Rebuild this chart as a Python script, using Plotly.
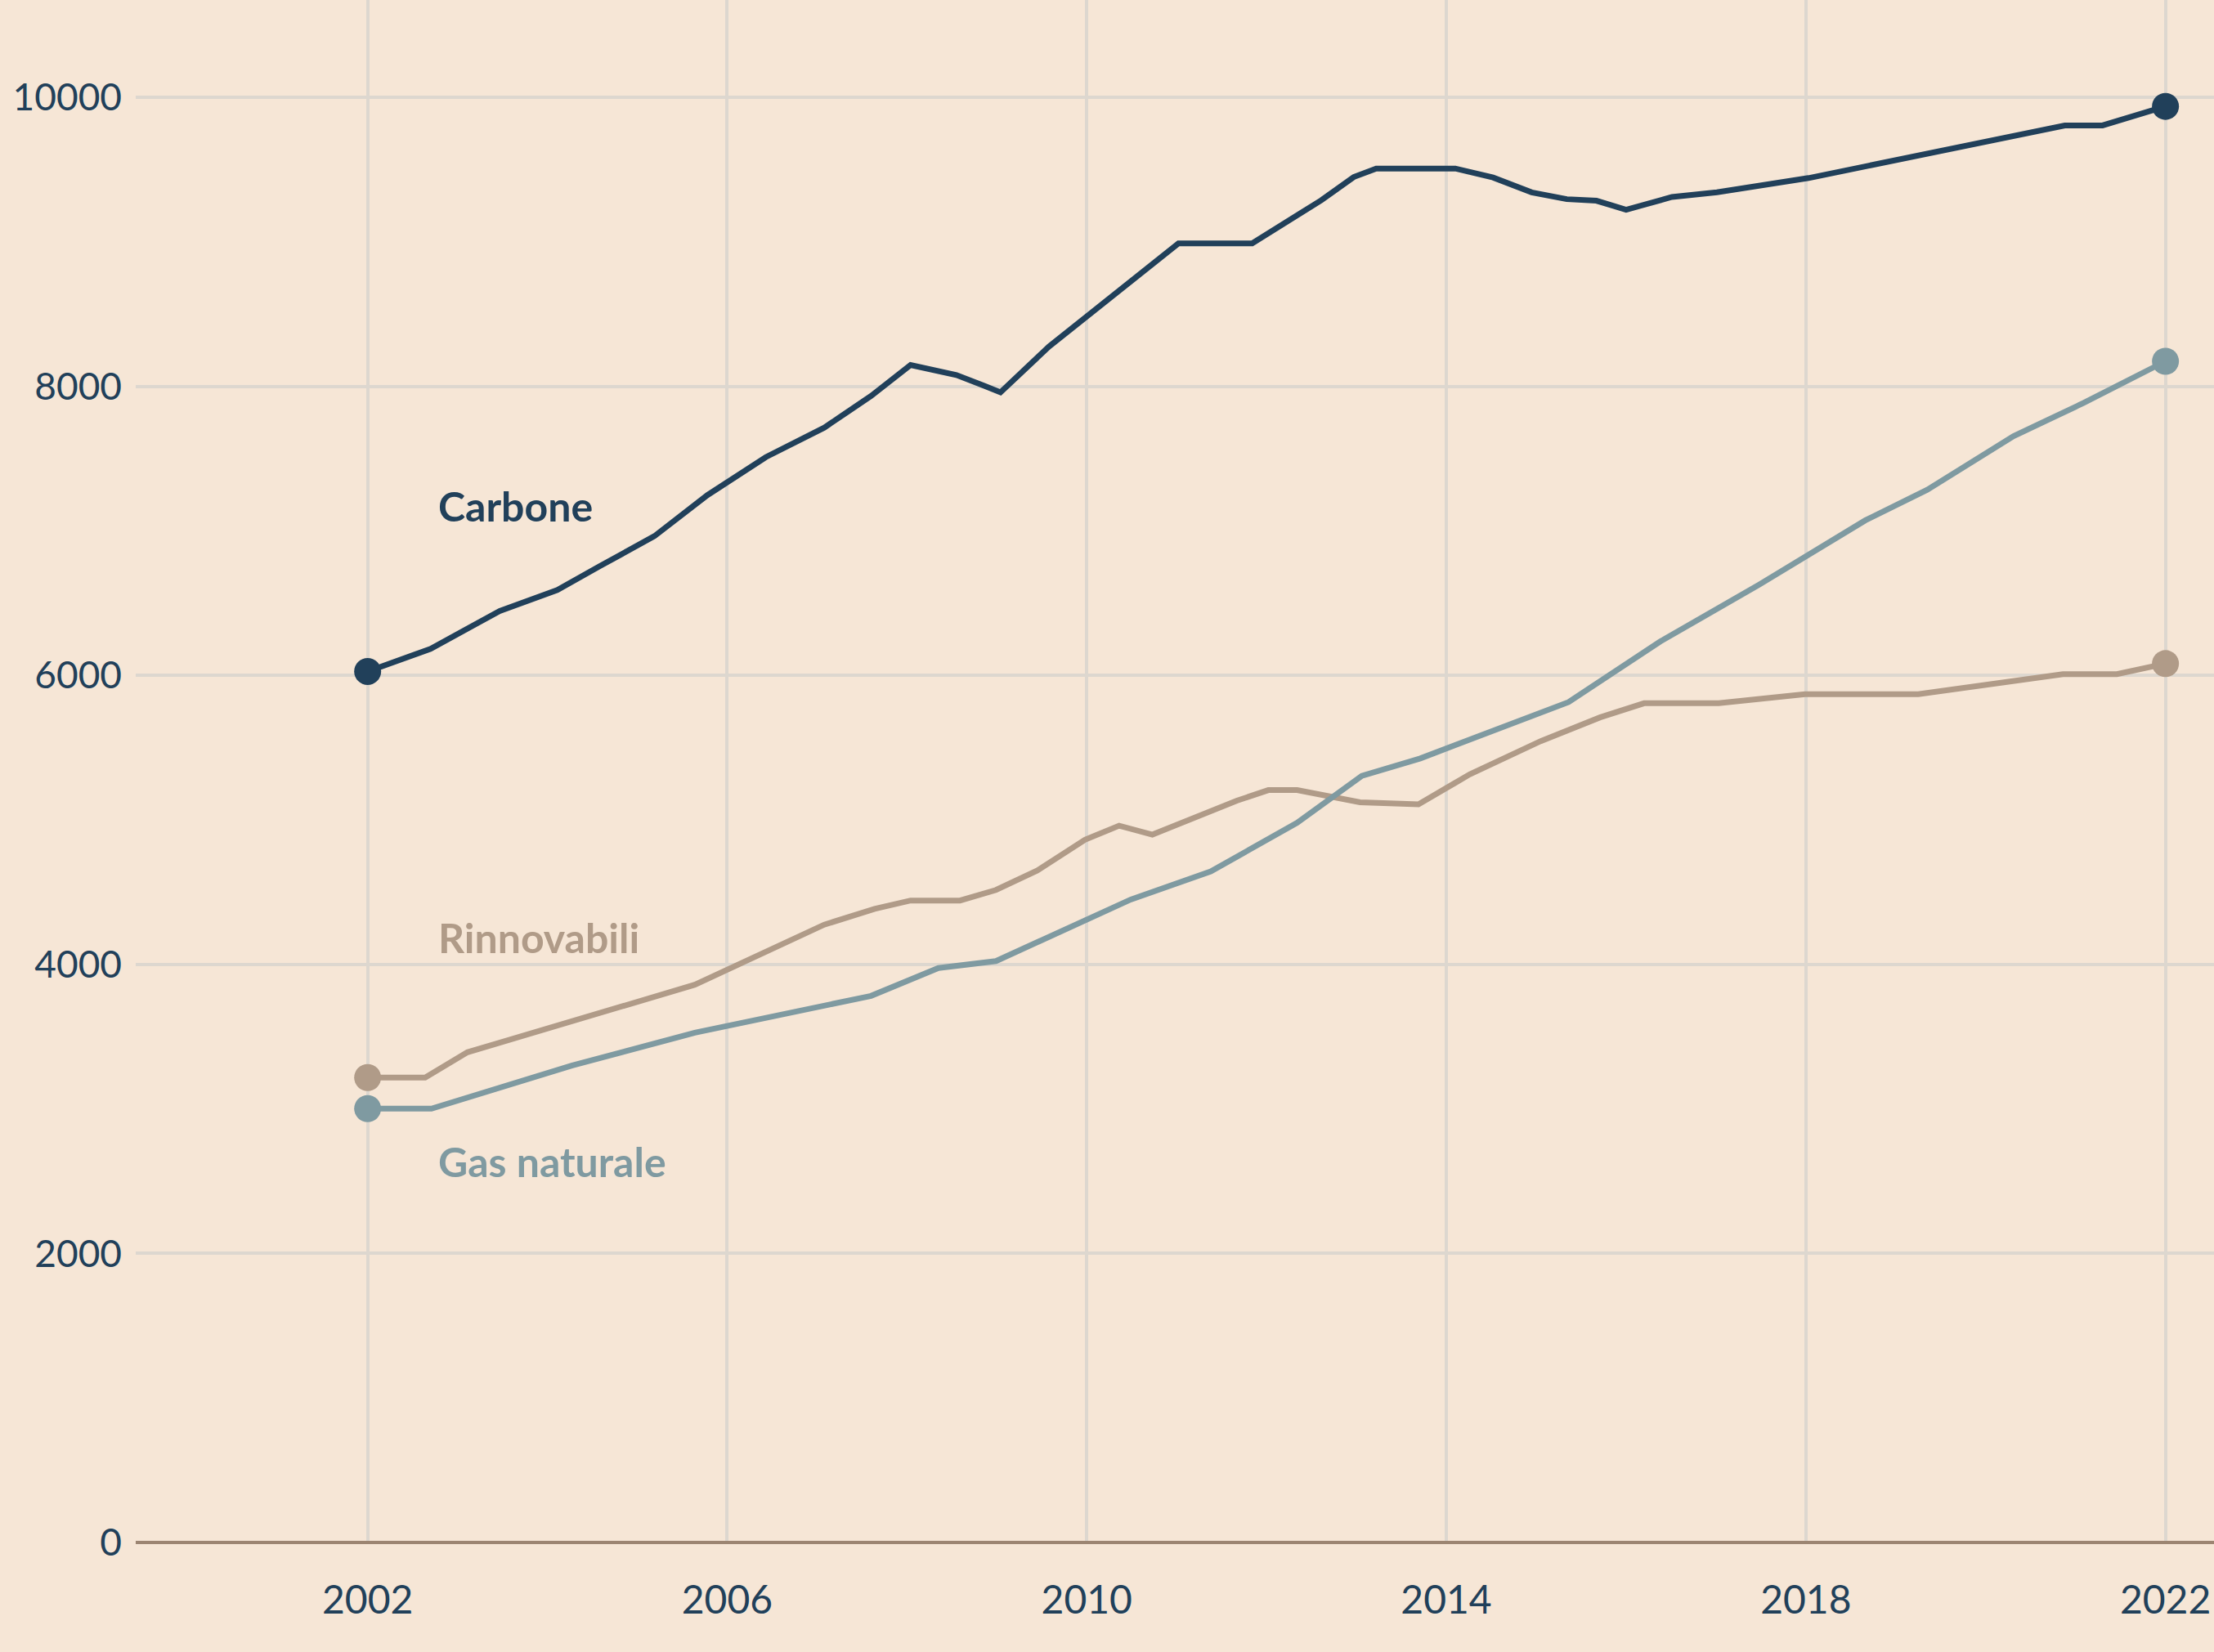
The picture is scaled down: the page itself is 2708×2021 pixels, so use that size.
import plotly.graph_objects as go

# Carbone
carbone_x = [2002.0, 2002.70, 2003.47, 2004.11, 2004.58, 2005.19, 2005.78, 2006.43, 2007.08, 2007.60,
             2008.04, 2008.55, 2008.86, 2009.04, 2009.58, 2011.02, 2011.84, 2012.61, 2012.97, 2013.22,
             2014.10, 2014.52, 2014.95, 2015.34, 2015.67, 2016.00, 2016.51, 2017.01, 2018.03, 2018.97,
             2020.07, 2020.88, 2021.30, 2022.0]
carbone_y = [6027, 6183, 6446, 6591, 6755, 6963, 7247, 7510, 7714, 7933,
             8147, 8078, 8003, 7958, 8275, 8989, 8989, 9288, 9448, 9507,
             9507, 9445, 9342, 9295, 9284, 9222, 9310, 9342, 9441, 9561,
             9707, 9805, 9805, 9937]

# Gas naturale
gas_x = [2002.0, 2002.71, 2004.27, 2005.64, 2007.60, 2008.35, 2008.99, 2009.84, 2010.49, 2011.38,
         2012.34, 2013.06, 2013.71, 2015.36, 2016.38, 2017.48, 2018.66, 2019.35, 2020.31, 2021.09, 2022.0]
gas_y = [3002, 3002, 3300, 3527, 3782, 3975, 4023, 4267, 4449, 4643,
         4980, 5305, 5425, 5815, 6234, 6628, 7072, 7284, 7655, 7885, 8173]

# Rinnovabili
rinn_x = [2002.0, 2002.64, 2003.11, 2005.64, 2007.08, 2007.64, 2008.04, 2008.59, 2008.99, 2009.45,
          2009.98, 2010.36, 2010.73, 2011.24, 2011.67, 2012.02, 2012.34, 2013.04, 2013.69, 2014.26,
          2015.05, 2015.71, 2016.20, 2017.03, 2017.99, 2019.25, 2020.19, 2020.86, 2021.46, 2022.0]
rinn_y = [3217, 3217, 3392, 3859, 4275, 4384, 4442, 4442, 4515, 4650,
          4862, 4960, 4898, 5031, 5133, 5206, 5206, 5122, 5107, 5315,
          5545, 5709, 5807, 5807, 5870, 5870, 5953, 6008, 6008, 6081]

x_ticks = [2002, 2006, 2010, 2014, 2018, 2022]
y_ticks = [0, 2000, 4000, 6000, 8000, 10000]

labels = ["Carbone", "Rinnovabili", "Gas naturale"]
label_x = [2002.77, 2002.77, 2002.77]
label_y = [7172, 4186, 2636]

C_CARB = "#21405A"
C_GAS = "#7F9AA1"
C_RINN = "#B09B88"
BG = "#F6E6D6"
FONT = "Lato"

fig = go.Figure()

series = [
    (carbone_x, carbone_y, C_CARB, 7),
    (rinn_x, rinn_y, C_RINN, 7),
    (gas_x, gas_y, C_GAS, 7),
]
for xs, ys, col, w in series:
    fig.add_trace(go.Scatter(x=xs, y=ys, mode="lines", line=dict(color=col, width=w),
                             hoverinfo="skip", showlegend=False, cliponaxis=False))
    fig.add_trace(go.Scatter(x=[xs[0], xs[-1]], y=[ys[0], ys[-1]], mode="markers",
                             marker=dict(color=col, size=33), hoverinfo="skip",
                             showlegend=False, cliponaxis=False))

for txt, lx, ly, col in zip(labels, label_x, label_y, [C_CARB, C_RINN, C_GAS]):
    fig.add_annotation(x=lx, y=ly, text="<b>%s</b>" % txt, showarrow=False,
                       xanchor="left", yanchor="middle",
                       font=dict(family=FONT, size=50, color=col))

fig.update_layout(
    width=2708, height=2021,
    margin=dict(l=166, r=0, t=0, b=134),
    paper_bgcolor=BG, plot_bgcolor=BG,
    font=dict(family=FONT, size=46, color=C_CARB),
    xaxis=dict(range=[1999.42, 2022.54], tickvals=x_ticks, ticktext=[str(v) for v in x_ticks],
               showgrid=True, gridcolor="#DDD7CF", gridwidth=4, zeroline=False,
               showline=False, ticks="", ticklabelstandoff=38,
               tickfont=dict(family=FONT, size=48, color=C_CARB)),
    yaxis=dict(range=[0, 10673], tickvals=y_ticks, ticktext=[str(v) for v in y_ticks],
               showgrid=True, gridcolor="#DDD7CF", gridwidth=4,
               zeroline=True, zerolinecolor="#9C8572", zerolinewidth=4,
               showline=False, ticks="", ticklabelstandoff=16,
               tickfont=dict(family=FONT, size=46, color=C_CARB)),
)

fig.write_html("out.html", config={"displayModeBar": False},
               post_script="document.body.style.margin='0';")
